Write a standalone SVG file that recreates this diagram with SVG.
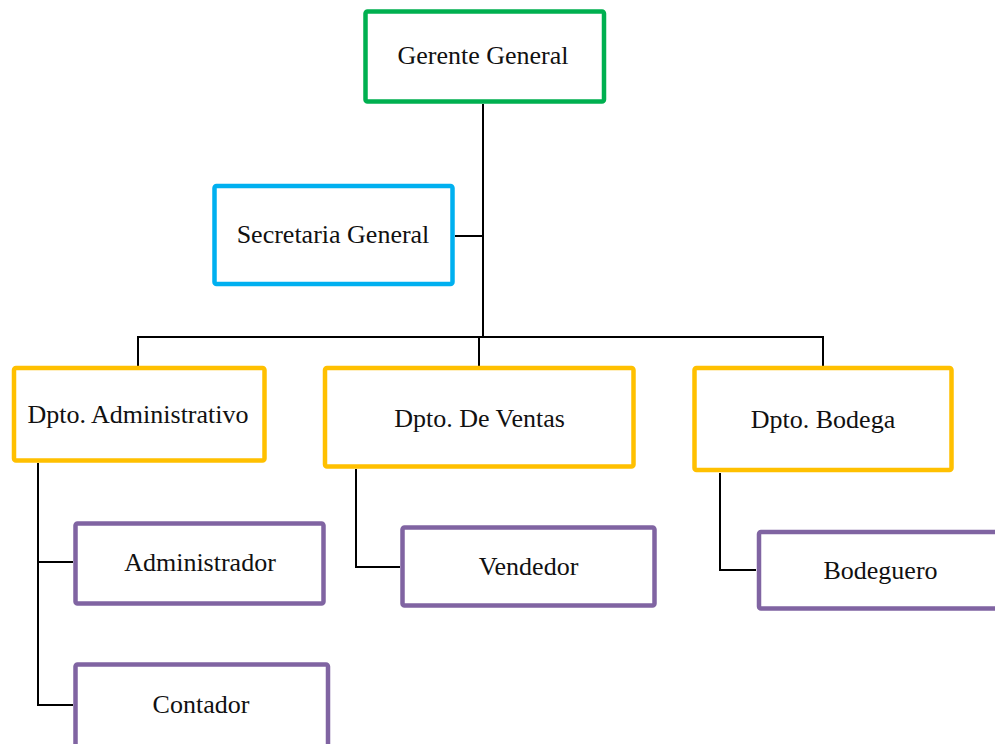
<svg xmlns="http://www.w3.org/2000/svg" width="995" height="744" viewBox="0 0 995 744">
  <style>
    .box { fill: #ffffff; stroke-width: 4.5; stroke-linejoin: round; }
    .green { stroke: #00B050; }
    .blue { stroke: #00B0F0; }
    .yellow { stroke: #FFC000; }
    .purple { stroke: #8064A2; }
    .label { font-family: "Liberation Serif", "Times New Roman", serif; font-size: 26px; fill: #111111; text-anchor: middle; }
    .link { fill: none; stroke: #000000; stroke-width: 2; }
  </style>
  <rect width="995" height="744" fill="#ffffff"/>

  <g id="connectors">
    <!-- trunk from the top box down to the department bar -->
    <path class="link" d="M483 104 V337"/>
    <path class="link" d="M455 236 H483"/>
    <path class="link" d="M138 366 V337 H823 V366"/>
    <path class="link" d="M479 337 V366"/>
    <!-- department sub-branches -->
    <path class="link" d="M38 463 V705 H73"/>
    <path class="link" d="M38 562 H73"/>
    <path class="link" d="M356 469 V567 H400"/>
    <path class="link" d="M720 473 V570 H756"/>
  </g>

  <g id="gerente-general">
    <rect class="box green" x="365.5" y="11.5" width="238.5" height="90" rx="2"/>
    <text class="label" x="483" y="64">Gerente General</text>
  </g>

  <g id="secretaria-general">
    <rect class="box blue" x="214.5" y="186" width="238" height="98" rx="2"/>
    <text class="label" x="333" y="243">Secretaria General</text>
  </g>

  <g id="dpto-administrativo">
    <rect class="box yellow" x="14" y="368" width="250.5" height="92.5" rx="2"/>
    <text class="label" x="138" y="423">Dpto. Administrativo</text>
  </g>

  <g id="dpto-ventas">
    <rect class="box yellow" x="325" y="368" width="308.5" height="98.5" rx="2"/>
    <text class="label" x="479.5" y="427">Dpto. De Ventas</text>
  </g>

  <g id="dpto-bodega">
    <rect class="box yellow" x="694.5" y="368" width="257" height="102" rx="2"/>
    <text class="label" x="823" y="428">Dpto. Bodega</text>
  </g>

  <g id="administrador">
    <rect class="box purple" x="75.5" y="523.5" width="248" height="80" rx="2"/>
    <text class="label" x="200" y="571">Administrador</text>
  </g>

  <g id="contador">
    <rect class="box purple" x="75.5" y="664.5" width="252.5" height="90" rx="2"/>
    <text class="label" x="201" y="713">Contador</text>
  </g>

  <g id="vendedor">
    <rect class="box purple" x="402.5" y="527.5" width="252" height="78" rx="2"/>
    <text class="label" x="528.5" y="575">Vendedor</text>
  </g>

  <g id="bodeguero">
    <rect class="box purple" x="759" y="532" width="245" height="76.5" rx="2"/>
    <text class="label" x="880.5" y="579">Bodeguero</text>
  </g>
</svg>
